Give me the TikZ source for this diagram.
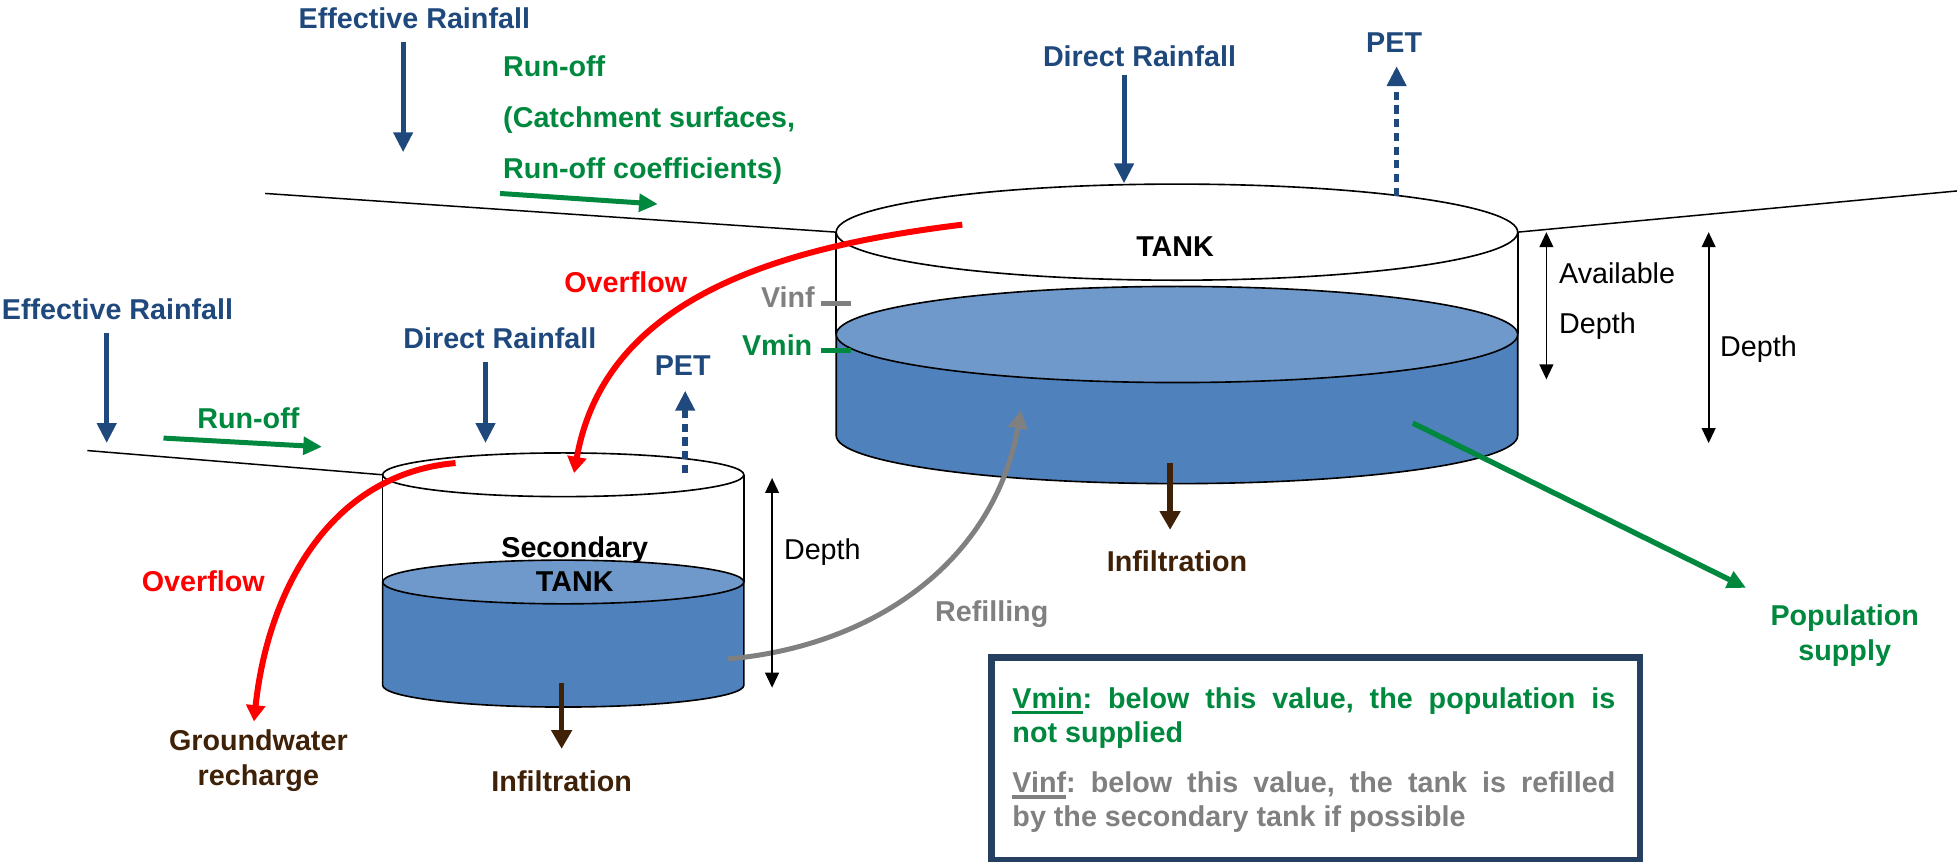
\documentclass[tikz,border=0pt]{standalone}
\usepackage{fontspec}
\setmainfont{Liberation Sans}
\usepackage{xcolor}
\usetikzlibrary{arrows.meta}

\definecolor{rainblue}{HTML}{1F497D}
\definecolor{flowgreen}{HTML}{00883E}
\definecolor{soilbrown}{HTML}{3F2108}
\definecolor{tankside}{HTML}{4F81BD}
\definecolor{tanksurf}{HTML}{7099CB}
\definecolor{noteframe}{HTML}{243F60}

\setlength{\parindent}{0pt}
\frenchspacing
\newcommand{\thickul}[1]{\leavevmode\vtop{\hbox{#1}\kern2.5pt\hrule height 2.6pt}}

\tikzset{
    lbl/.style={font=\fontsize{23}{27.6}\selectfont\bfseries, inner sep=0pt},
    widelbl/.style={font=\fontsize{23}{41}\selectfont\bfseries, inner sep=0pt},
    plainlbl/.style={font=\fontsize{23}{40}\selectfont, inner sep=0pt},
    rain/.style={rainblue, line width=4pt, -{Triangle[length=16pt,width=15pt]}},
    evap/.style={rainblue, line width=4.5pt, dash pattern=on 6.5pt off 4.5pt, -{Triangle[length=16pt,width=15pt]}},
    runoff/.style={flowgreen, line width=4pt, -{Triangle[length=15pt,width=14pt]}},
    spill/.style={red, line width=4.8pt, -{Triangle[length=13pt,width=15pt]}},
    seep/.style={soilbrown, line width=4.5pt, -{Triangle[length=15pt,width=16pt]}},
    refill/.style={gray, line width=4pt, -{Triangle[length=15pt,width=15pt]}},
    gauge/.style={line width=1.4pt, {Triangle[length=12pt,width=11pt]}-{Triangle[length=12pt,width=11pt]}},
    tick/.style={line width=4pt},
    ground/.style={line width=1.2pt},
    wall/.style={line width=1.3pt}
}

\begin{document}
\begin{tikzpicture}[x=1pt, y=1pt]
    \useasboundingbox (0,0) rectangle (1568,-690);

    % main tank
    \fill[tankside] (670,-268) -- (670,-349) arc[start angle=180, end angle=360, x radius=273, y radius=38.5] -- (1216,-268) -- cycle;
    \draw[wall] (670,-268) -- (670,-349) arc[start angle=180, end angle=360, x radius=273, y radius=38.5] -- (1216,-268);
    \draw[wall, fill=tanksurf] (943,-268) ellipse [x radius=273, y radius=38.5];
    \draw[wall] (670,-186) -- (670,-268) (1216,-186) -- (1216,-268);
    \draw[wall] (943,-186) ellipse [x radius=273, y radius=38.5];

    % secondary tank
    \fill[tankside] (306.6,-466.3) -- (306.6,-549) arc[start angle=180, end angle=360, x radius=144.7, y radius=17.5] -- (596,-466.3) -- cycle;
    \draw[wall] (306.6,-466.3) -- (306.6,-549) arc[start angle=180, end angle=360, x radius=144.7, y radius=17.5] -- (596,-466.3);
    \draw[wall, fill=tanksurf] (451.3,-466.3) ellipse [x radius=144.7, y radius=17.5];
    \draw[wall] (306.6,-380.4) -- (306.6,-466.3) (596,-380.4) -- (596,-466.3);
    \draw[wall] (451.3,-380.4) ellipse [x radius=144.7, y radius=17.5];

    \coordinate (tankL) at (670,-186);
    \coordinate (tankR) at (1216,-186);
    \coordinate (subL) at (306.6,-380.4);
    \coordinate (slopeA) at (212.5,-155);
    \coordinate (slopeB) at (1568,-153);
    \coordinate (slopeC) at (70,-361);
    \draw[ground] (slopeA) -- (tankL) (tankR) -- (slopeB) (slopeC) -- (subL);

    \coordinate (erA1) at (323,-34);      \coordinate (erA2) at (323,-122);
    \coordinate (roA1) at (400.6,-155);   \coordinate (roA2) at (527,-163.5);
    \coordinate (drA1) at (900.6,-60);    \coordinate (drA2) at (900.6,-147);
    \coordinate (petA1) at (1119,-157);   \coordinate (petA2) at (1119,-53);
    \coordinate (ovA1) at (771,-180);     \coordinate (ovA2) at (460,-379);
    \coordinate (erB1) at (85.5,-267);    \coordinate (erB2) at (85.5,-355);
    \coordinate (roB1) at (131,-351);     \coordinate (roB2) at (258,-358);
    \coordinate (drB1) at (389,-290);     \coordinate (drB2) at (389,-355);
    \coordinate (petB1) at (549,-379);    \coordinate (petB2) at (549,-313);
    \coordinate (ovB1) at (365,-371);     \coordinate (ovB2) at (203.5,-578);
    \coordinate (infA1) at (937.5,-371);  \coordinate (infA2) at (937.5,-424.5);
    \coordinate (infB1) at (450,-547);    \coordinate (infB2) at (450,-600);
    \coordinate (rf1) at (583,-528);      \coordinate (rf2) at (818,-328.5);
    \coordinate (sup1) at (1132,-339);    \coordinate (sup2) at (1399,-471);
    \coordinate (av1) at (1239,-186);     \coordinate (av2) at (1239,-304);
    \coordinate (dpA1) at (1369,-186);    \coordinate (dpA2) at (1369,-355);
    \coordinate (dpB1) at (618.6,-383);   \coordinate (dpB2) at (618.6,-551);
    \coordinate (vinf1) at (658,-243);    \coordinate (vinf2) at (682,-243);
    \coordinate (vmin1) at (658,-281);    \coordinate (vmin2) at (682,-281);

    \draw   (erA1) edge[rain] (erA2)
            (erB1) edge[rain] (erB2)
            (drA1) edge[rain] (drA2)
            (drB1) edge[rain] (drB2)
            (petA1) edge[evap] (petA2)
            (petB1) edge[evap] (petB2)
            (roA1) edge[runoff] (roA2)
            (roB1) edge[runoff] (roB2)
            (infA1) edge[seep] (infA2)
            (infB1) edge[seep] (infB2)
            (rf1) edge[refill, out=5, in=-100] (rf2)
            (sup1) edge[runoff, line width=4.3pt] (sup2)
            (ovA1) edge[spill, out=187, in=80] (ovA2)
            (ovB1) edge[spill, out=185, in=84] (ovB2)
            (av1) edge[gauge] (av2)
            (dpA1) edge[gauge] (dpA2)
            (dpB1) edge[gauge] (dpB2)
            (vinf1) edge[tick, gray] (vinf2)
            (vmin1) edge[tick, flowgreen] (vmin2)
            ;

    \node[lbl, rainblue, anchor=base] (effrainA) at (332,-22.5) {Effective Rainfall};
    \node[widelbl, flowgreen, anchor=north west, align=left] (runoffA) at (403,-44.3) {Run-off\\(Catchment surfaces,\\Run-off coefficients)};
    \node[lbl, rainblue, anchor=base] (dirrainA) at (913,-53) {Direct Rainfall};
    \node[lbl, rainblue, anchor=base] (petA) at (1117,-42) {PET};
    \node[lbl, anchor=base] (tankA) at (941.5,-205.6) {TANK};
    \node[lbl, gray, anchor=base east] (vinf) at (653,-246) {Vinf};
    \node[lbl, flowgreen, anchor=base east] (vmin) at (651,-285) {Vmin};
    \node[lbl, red, anchor=base west] (spillA) at (452,-234) {Overflow};
    \node[plainlbl, anchor=north west, align=left] (availdepth) at (1249,-210.5) {Available\\Depth};
    \node[plainlbl, anchor=base west] (depthA) at (1378,-286) {Depth};
    \node[lbl, rainblue, anchor=base west] (effrainB) at (1.3,-256) {Effective Rainfall};
    \node[lbl, flowgreen, anchor=base] (runoffB) at (199,-343) {Run-off};
    \node[lbl, rainblue, anchor=base west] (dirrainB) at (323,-279) {Direct Rainfall};
    \node[lbl, rainblue, anchor=base] (petB) at (547,-301) {PET};
    \node[lbl, anchor=north, align=center] (tankB) at (460.5,-429.5) {Secondary\\TANK};
    \node[plainlbl, anchor=base west] (depthB) at (628,-448) {Depth};
    \node[lbl, red, anchor=base west] (spillB) at (113.5,-473.6) {Overflow};
    \node[lbl, soilbrown, anchor=north, align=center] (recharge) at (207,-584.5) {Groundwater\\recharge};
    \node[lbl, soilbrown, anchor=base] (infB) at (450,-634) {Infiltration};
    \node[lbl, soilbrown, anchor=base] (infA) at (943,-458) {Infiltration};
    \node[lbl, gray, anchor=base west] (refilling) at (749,-498) {Refilling};
    \node[lbl, flowgreen, anchor=north, align=center] (supply) at (1478,-484.5) {Population\\supply};

    % note on the two thresholds
    \node[draw=noteframe, line width=5.5pt, minimum width=519.5pt, minimum height=162.5pt, anchor=north west, inner sep=0pt] (notebox) at (791.75,-523.75) {};
    \node[lbl, anchor=north west, text width=483pt, align=justify] (notetext) at (811,-550.4)
        {\tolerance=10000 \color{flowgreen}\thickul{Vmin}: below this value, the population is\linebreak not supplied\par
         \vspace{12.4pt}\color{gray}\thickul{Vinf}: below this value, the tank is refilled\linebreak by the secondary tank if possible};
\end{tikzpicture}
\end{document}
